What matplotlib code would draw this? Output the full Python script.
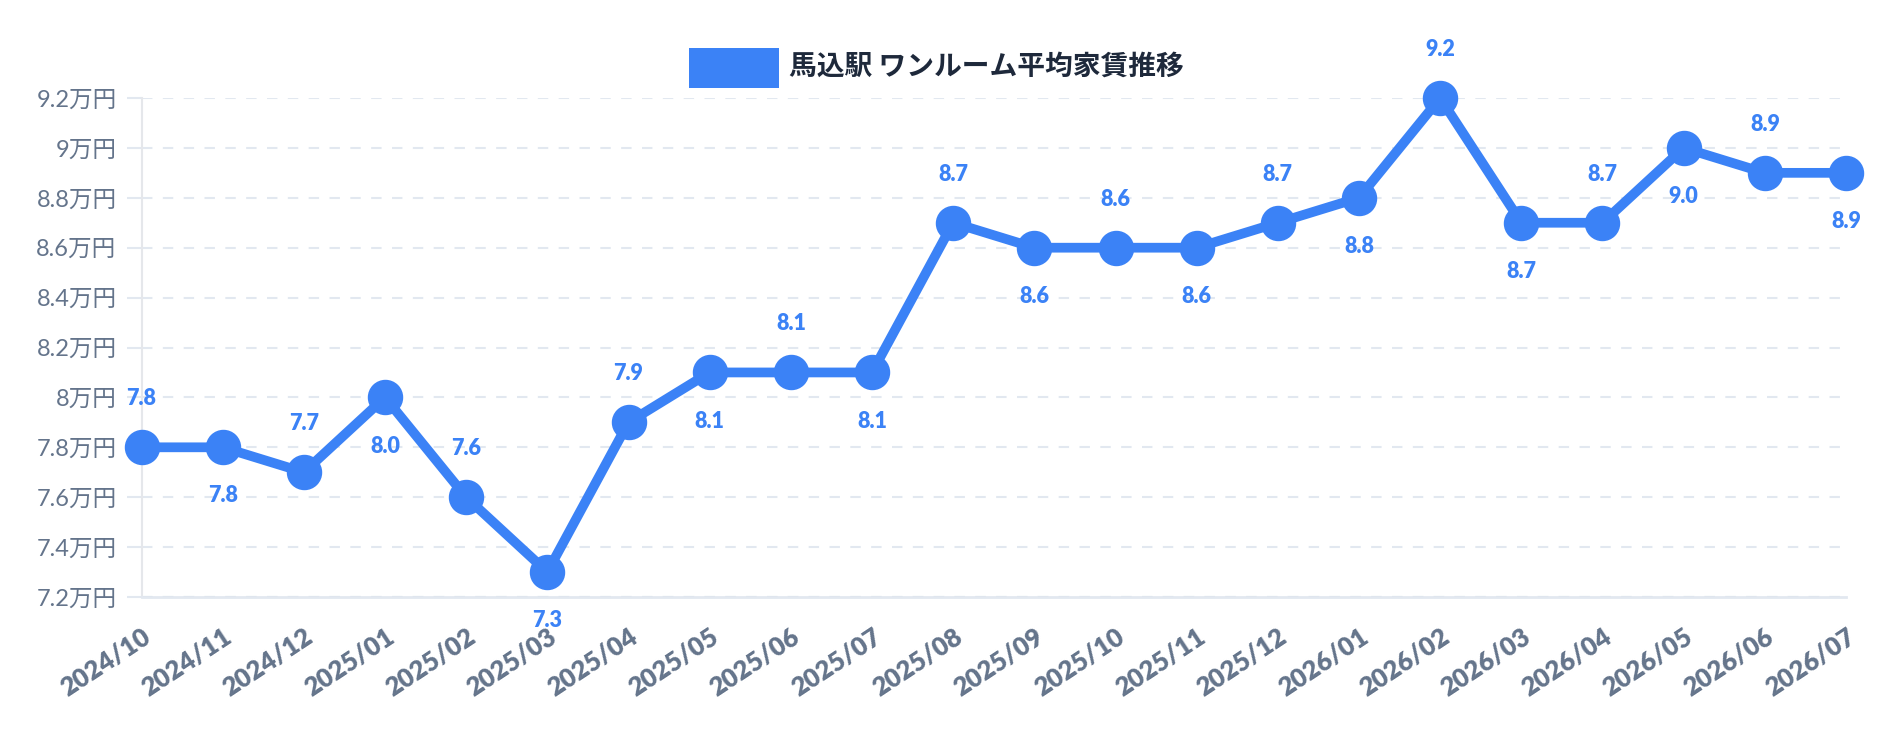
import matplotlib
matplotlib.use('Agg')
import matplotlib.pyplot as plt
from matplotlib.patches import Rectangle

# ---- data ----
months = ['2024/10', '2024/11', '2024/12', '2025/01', '2025/02', '2025/03', '2025/04',
          '2025/05', '2025/06', '2025/07', '2025/08', '2025/09', '2025/10', '2025/11',
          '2025/12', '2026/01', '2026/02', '2026/03', '2026/04', '2026/05', '2026/06',
          '2026/07']
rent = [7.8, 7.8, 7.7, 8.0, 7.6, 7.3, 7.9, 8.1, 8.1, 8.1, 8.7, 8.6, 8.6, 8.6,
        8.7, 8.8, 9.2, 8.7, 8.7, 9.0, 8.9, 8.9]
series_name = '馬込駅 ワンルーム平均家賃推移'
yticks = [7.2, 7.4, 7.6, 7.8, 8.0, 8.2, 8.4, 8.6, 8.8, 9.0, 9.2]

# ---- style ----
BLUE = '#3b82f6'
GRID = '#e2e8f0'
TICKC = '#64748b'
TITLEC = '#1e293b'
FONTS = ['Lato', 'Noto Sans CJK JP', 'DejaVu Sans']
JP = ['Noto Sans CJK JP', 'DejaVu Sans']
plt.rcParams['font.family'] = FONTS

W, H = 1880, 732
fig = plt.figure(figsize=(W / 100, H / 100), dpi=100)
fig.patch.set_facecolor('white')
left, right, top, bottom = 141.5, 1846, 98, 597
ax = fig.add_axes([left / W, 1 - bottom / H, (right - left) / W, (bottom - top) / H])

x = list(range(len(months)))
ax.plot(x, rent, color=BLUE, lw=7, marker='o', ms=24.5, mfc=BLUE, mec=BLUE,
        solid_joinstyle='round', zorder=3, clip_on=False)

ax.set_xlim(0, len(months) - 1)
ax.set_ylim(yticks[0], yticks[-1])

ax.set_yticks(yticks)
ax.set_yticklabels([f'{v:g}万円' for v in yticks], family=FONTS, fontsize=17, color=TICKC)
ax.set_xticks(x)
ax.set_xticklabels(months, rotation=33.5, ha='right', va='top', rotation_mode='anchor',
                   family=FONTS, fontsize=18.5, fontweight='heavy', color=TICKC)

ax.tick_params(axis='y', length=11, width=1.5, color=GRID, pad=7)
ax.tick_params(axis='x', length=0, pad=20)

ax.grid(axis='y', color=GRID, linestyle=(0, (5, 5)), linewidth=1.5, zorder=0)
ax.set_axisbelow(True)
for s in ['top', 'right']:
    ax.spines[s].set_visible(False)
ax.spines['left'].set_color('#e5e7eb')
ax.spines['left'].set_linewidth(1.5)
ax.spines['bottom'].set_color('#e2e8f0')
ax.spines['bottom'].set_linewidth(2)
ax.axhline(yticks[0], color='#cbd5e1', linestyle=(0, (5, 5)), linewidth=1.5, zorder=1,
           clip_on=False)

# data labels alternating above / below
for i, v in enumerate(rent):
    off = 35 if i % 2 == 0 else -35
    ax.annotate(f'{v:.1f}', (i, v), xytext=(0, off), textcoords='offset points',
                ha='center', va='center', fontsize=15.5, fontweight='heavy', color=BLUE,
                family=FONTS, annotation_clip=False, zorder=4)

# legend (title) box
fig.patches.append(Rectangle((689 / W, 1 - 88 / H), 90 / W, 40 / H, transform=fig.transFigure,
                             facecolor=BLUE, edgecolor='none'))
fig.text(789 / W, 1 - 67 / H, series_name, family=JP, fontsize=20, fontweight='bold',
         color=TITLEC, ha='left', va='center')

fig.savefig('out.png', dpi=100, facecolor='white')
